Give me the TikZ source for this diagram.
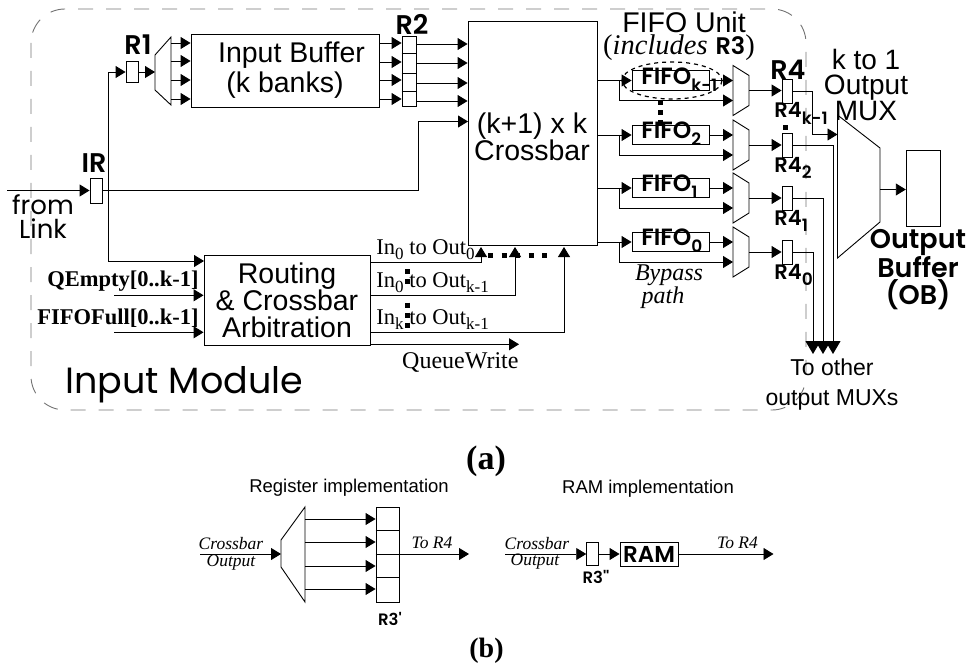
\documentclass[tikz,border=0pt]{standalone}
\usepackage{fontspec}
\usetikzlibrary{arrows.meta}
\setmainfont{Liberation Sans}
\newfontfamily\gothicfont[BoldFont={Poppins SemiBold}]{Poppins}
\newfontfamily\timesfont{Liberation Serif}
\definecolor{FrameGray}{gray}{0.45}
\newcommand{\lowsub}[1]{\raisebox{-0.3em}{\fontsize{17}{17}\selectfont #1}}
\newcommand{\timessub}[1]{\raisebox{-0.25em}{\fontsize{17}{17}\selectfont #1}}

\begin{document}
\begin{tikzpicture}[x=1pt, y=-1pt, line width=0.9pt,
        arr/.style={-{Triangle[length=10pt,width=12pt]}},
        dropdown/.style={-{Triangle[length=13pt,width=15pt]}},
        dotline/.style={line width=5pt, dash pattern=on 5pt off 5pt},
        dotwide/.style={line width=5pt, dash pattern=on 5pt off 8.5pt},
        box/.style={draw, inner sep=0pt, align=center},
        regbox/.style={draw, inner sep=0pt, minimum width=12pt},
        helv/.style={inner sep=0pt, align=center, font=\fontsize{28.5}{26}\selectfont},
        gothic/.style={inner sep=0pt, align=center, font=\gothicfont\fontsize{36.5}{36}\selectfont},
        boldlab/.style={inner sep=0pt, font=\gothicfont\bfseries\fontsize{27}{27}\selectfont},
        fifolab/.style={inner sep=0pt, font=\gothicfont\bfseries\fontsize{23.5}{24}\selectfont},
        reglab/.style={inner sep=0pt, font=\gothicfont\bfseries\fontsize{21}{22}\selectfont},
        boldbig/.style={inner sep=0pt, align=center, font=\gothicfont\bfseries\fontsize{27}{27.5}\selectfont},
        boldsmall/.style={inner sep=0pt, font=\gothicfont\bfseries\fontsize{16.5}{17}\selectfont},
        serif/.style={inner sep=0pt, anchor=base west, font=\timesfont\fontsize{22.5}{22.5}\selectfont},
        serifbold/.style={inner sep=0pt, anchor=east, font=\timesfont\bfseries\fontsize{22.5}{22.5}\selectfont},
        serifital/.style={inner sep=0pt, align=center, font=\timesfont\itshape\fontsize{24}{21}\selectfont},
        smallital/.style={inner sep=0pt, font=\timesfont\itshape\fontsize{17.5}{18}\selectfont},
        smallhelv/.style={inner sep=0pt, font=\fontsize{18.5}{19}\selectfont},
        caption/.style={inner sep=0pt, font=\timesfont\bfseries\fontsize{34}{34}\selectfont}]
        \useasboundingbox (0,0) rectangle (967,666);
        % input module frame
        \draw[FrameGray, rounded corners=34pt, dash pattern=on 15pt off 13pt] (31,9) rectangle (806,410);
        \node[gothic, anchor=west] (modlabel) at (65,385) {Input Module};
        % main blocks
        \node[box, minimum width=188pt, minimum height=73pt, font=\fontsize{28.5}{30}\selectfont] (inbuf) at (285,70.5) {\hspace*{13pt}Input Buffer\\(k banks)};
        \node[box, minimum width=129pt, minimum height=224pt] (crossbar) at (532.5,133) {};
        \node[helv] (xbtext) at (532,137) {(k+1) x k\\Crossbar};
        \node[box, minimum width=166pt, minimum height=90.5pt, font=\fontsize{28.5}{27}\selectfont] (route) at (287,300.5) {Routing\\\& Crossbar\\Arbitration};
        \node[box, minimum width=34.5pt, minimum height=76.5pt] (outbuf) at (923.5,188.3) {};
        % link input register
        \node[regbox, minimum height=25pt] (ir) at (96,190.5) {};
        \node[boldlab] (irlabel) at (94,163) {IR};
        \coordinate (linkin) at (7,190.5);
        \coordinate (irtap) at (108,190.5);
        \coordinate (xbin) at (468,121.5);
        \coordinate (routein) at (204,261);
        \draw[arr] (linkin) -- (ir.west);
        \draw[arr] (ir.east) -| (418,121.5) -- (xbin);
        \draw[arr] (irtap) |- (routein);
        \node[gothic, font=\gothicfont\fontsize{26}{24}\selectfont] (linklabel) at (43,217) {from\\Link};
        % R1 and the demux
        \node[regbox, minimum height=21pt] (r1) at (132,72) {};
        \node[boldlab] (r1label) at (138,45) {R1};
        \draw[arr] (irtap) |- (r1.west);
        \draw (155,55) -- (171,37) -- (171,105) -- (155,90) -- cycle;
        \coordinate (demuxin) at (155,72);
        \draw[arr] (r1.east) -- (demuxin);
        \foreach \y in {43, 61, 80, 99} {
            \draw[arr] (171,\y) -- (inbuf.west |- 0,\y);
        }
        % R2
        \node[regbox, minimum width=14pt, minimum height=70pt] (r2) at (409,71) {};
        \node[boldlab] (r2label) at (412,24) {R2};
        \foreach \y in {53, 73, 91} {
            \draw (r2.west |- 0,\y) -- (r2.east |- 0,\y);
        }
        \foreach \yin/\yout in {43/44, 62/63, 80/83, 99/101} {
            \draw[arr] (inbuf.east |- 0,\yin) -- (r2.west |- 0,\yin);
            \draw[arr] (r2.east |- 0,\yout) -- (crossbar.west |- 0,\yout);
        }
        % routing inputs and outputs
        \node[serifbold] (qempty) at (199,281) {QEmpty[0..k-1]};
        \node[serifbold] (fifofull) at (199,318) {FIFOFull[0..k-1]};
        \coordinate (qein) at (114,295.3);
        \coordinate (ffin) at (114,332.3);
        \draw[arr] (qein) -- (route.west |- qein);
        \draw[arr] (ffin) -- (route.west |- ffin);
        \coordinate (xtip0) at (481,247);
        \coordinate (xtip1) at (515,247);
        \coordinate (xtip2) at (564,247);
        \coordinate (qwend) at (519,344.3);
        \draw[arr] (route.east |- 0,262.7) -| (xtip0);
        \draw[arr] (route.east |- 0,295.3) -| (xtip1);
        \draw[arr] (route.east |- 0,332.3) -| (xtip2);
        \draw[arr] (route.east |- qwend) -- (qwend);
        \node[serif] (in0out0) at (376,254) {In\timessub{0} to Out\timessub{0}};
        \node[serif] (in0outk) at (376,287) {In\timessub{0} to Out\timessub{k-1}};
        \node[serif] (inkoutk) at (376,324) {In\timessub{k} to Out\timessub{k-1}};
        \node[serif, anchor=base east, font=\timesfont\fontsize{24}{24}\selectfont] (qwlabel) at (519,368) {QueueWrite};
        \draw[dotwide] (488,255) -- (552,255);
        \draw[dotline] (407,269) -- (407,284);
        \draw[dotline] (407,302.5) -- (407,328);
        % FIFO rows
        \foreach \n/\sub/\y in {k/k-1/80.5, 2/2/135, 1/1/188, 0/0/242} {
            \node[box, minimum width=77pt, minimum height=19.5pt] (fifo\n) at (670.5,\y) {};
            \node[fifolab, anchor=west] (fifotext\n) at (641,\y-1) {FIFO\lowsub{\sub}};
            \coordinate (tap\n) at (619,\y);
            \coordinate (bypass\n) at (733,\y+20);
            \coordinate (muxin\n) at (733,\y+10);
            \coordinate (muxout\n) at (749,\y+10);
            \draw (733,\y-15) -- (749,\y-5) -- (749,\y+25) -- (733,\y+35) -- cycle;
            \draw[arr] (crossbar.east |- fifo\n) -- (fifo\n.west);
            \draw[arr] (tap\n) |- (bypass\n);
            \draw[arr] (fifo\n.east) -- (fifo\n.east -| muxin\n);
            \node[regbox, minimum width=10pt, minimum height=24pt] (r4\n) at (787,\y+10.5) {};
            \draw[arr] (muxout\n) -- (r4\n.west |- muxout\n);
            \node[reglab, anchor=west] (r4text\n) at (774,\y+33) {R4\lowsub{\sub}};
        }
        \draw[line width=1.2pt, dash pattern=on 4pt off 4pt] (672,80.5) ellipse (50 and 18.5);
        \draw[dotline] (660,100.5) -- (660,125.5);
        \draw[dotline] (785,125.5) -- (785,130.5);
        \node[helv] (fifolabel) at (684,22) {FIFO Unit};
        \node[helv] (includes) at (679,48) {{\timesfont(\textit{includes}} {\gothicfont\bfseries\fontsize{24}{24}\selectfont R3}{\timesfont)}};
        \node[boldlab] (r4label) at (788,70) {R4};
        \node[serifital] (bypasslabel) at (669,287) {Bypass\\path\hspace*{12pt}};
        % output mux and output buffer
        \node[helv, font=\fontsize{28}{25}\selectfont] (muxlabel) at (866,85) {k to 1\\Output\\MUX};
        \draw (837.5,115) -- (880,148) -- (880,222) -- (837.5,258) -- cycle;
        \coordinate (omuxk) at (837.5,134.5);
        \coordinate (omuxout) at (880,189.5);
        \coordinate (tip2) at (833,354);
        \coordinate (tip1) at (823,354);
        \coordinate (tip0) at (813,354);
        \draw[arr] (r4k.east) -- ++(20,0) |- (omuxk);
        \draw[dropdown] (r42.east) -| (tip2);
        \draw[dropdown] (r41.east) -| (tip1);
        \draw[dropdown] (r40.east) -| (tip0);
        \draw[arr] (omuxout) -- (outbuf.west |- omuxout);
        \node[boldbig] (oblabel) at (918,269.5) {Output\\Buffer\\(OB)};
        \node[inner sep=0pt, align=center, font=\fontsize{23}{30}\selectfont] (tootherlabel) at (832,385) {To other\\output MUXs};
        \node[caption] (capa) at (486,461) {(a)};
        % register implementation
        \node[smallhelv] (reglabel) at (349,488) {Register implementation};
        \coordinate (regin) at (200,554);
        \coordinate (regdemux) at (281,554);
        \draw (281,540) -- (305,507) -- (305,602) -- (281,567) -- cycle;
        \draw[arr] (regin) -- (regdemux);
        \node[regbox, minimum width=23pt, minimum height=95pt] (r3p) at (387.5,554.5) {};
        \foreach \y in {530, 554, 577} {
            \draw (r3p.west |- 0,\y) -- (r3p.east |- 0,\y);
        }
        \foreach \y in {519, 542, 566, 589} {
            \draw[arr] (305,\y) -- (r3p.west |- 0,\y);
        }
        \coordinate (regout) at (469,554);
        \draw[arr] (r3p.east |- regout) -- (regout);
        \node[smallital] (regcrossbar) at (231,544) {Crossbar};
        \node[smallital] (regoutput) at (231,563) {Output};
        \node[smallital] (regtor4) at (432,543) {To R4};
        \node[boldsmall] (r3plabel) at (390,619) {R3'};
        % RAM implementation
        \node[smallhelv] (ramlabel) at (648,489) {RAM implementation};
        \coordinate (ramin) at (505,554);
        \node[regbox, minimum height=23pt] (r3pp) at (592.7,553.5) {};
        \node[box, minimum width=58pt, minimum height=24pt, font=\gothicfont\bfseries\fontsize{23}{23}\selectfont] (ram) at (649,554) {RAM};
        \coordinate (ramout) at (773.5,554);
        \draw[arr] (ramin) -- (r3pp.west |- ramin);
        \draw[arr] (r3pp.east |- ram) -- (ram.west);
        \draw[arr] (ram.east) -- (ramout);
        \node[smallital] (ramcrossbar) at (537,544) {Crossbar};
        \node[smallital] (ramoutput) at (535,562) {Output};
        \node[smallital] (ramtor4) at (737.5,543) {To R4};
        \node[boldsmall] (r3pplabel) at (596,577) {R3''};
        \node[caption, font=\timesfont\bfseries\fontsize{28}{28}\selectfont] (capb) at (486.5,651) {(b)};
    \end{tikzpicture}
\end{document}
